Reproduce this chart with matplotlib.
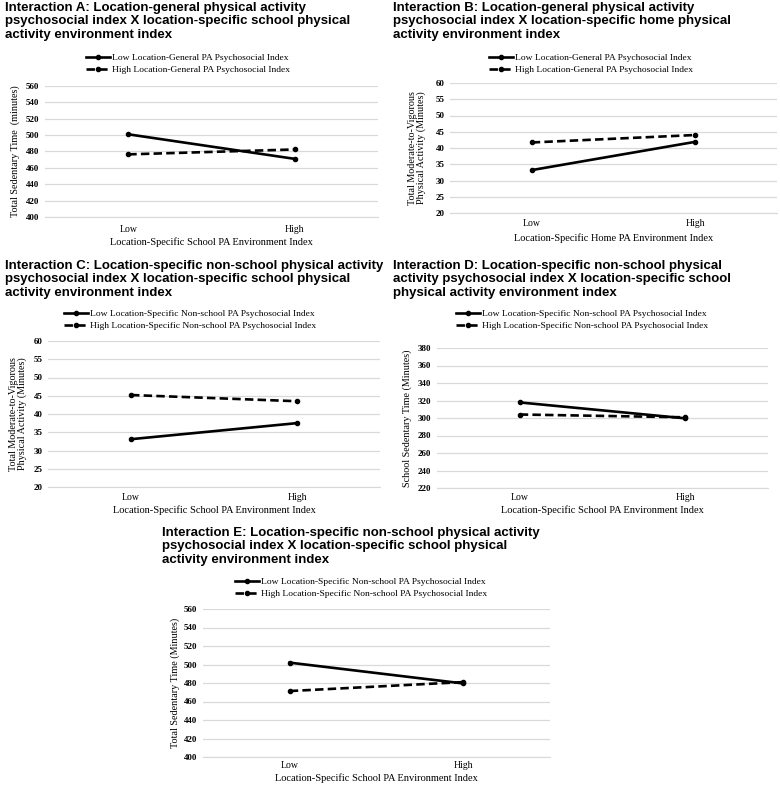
import matplotlib
matplotlib.use("Agg")
import matplotlib.pyplot as plt

W, H = 780, 785

categories = ["Low", "High"]

titles = [
    "Interaction A: Location-general physical activity\npsychosocial index X location-specific school physical\nactivity environment index",
    "Interaction B: Location-general physical activity\npsychosocial index X location-specific home physical\nactivity environment index",
    "Interaction C: Location-specific non-school physical activity\npsychosocial index X location-specific school physical\nactivity environment index",
    "Interaction D: Location-specific non-school physical\nactivity psychosocial index X location-specific school\nphysical activity environment index",
    "Interaction E: Location-specific non-school physical activity\npsychosocial index X location-specific school physical\nactivity environment index",
]

legend_general = ["Low Location-General PA Psychosocial Index",
                  "High Location-General PA Psychosocial Index"]
legend_nonschool = ["Low Location-Specific Non-school PA Psychosocial Index",
                    "High Location-Specific Non-school PA Psychosocial Index"]

ylabels = ["Total Sedentary Time  (minutes)",
           "Total Moderate-to-Vigorous\nPhysical Activity (Minutes)",
           "Total Moderate-to-Vigorous\nPhysical Activity (Minutes)",
           "School Sedentary Time (Minutes)",
           "Total Sedentary Time (Minutes)"]

xlabels = ["Location-Specific School PA Environment Index",
           "Location-Specific Home PA Environment Index",
           "Location-Specific School PA Environment Index",
           "Location-Specific School PA Environment Index",
           "Location-Specific School PA Environment Index"]

# values (low psychosocial, high psychosocial) at Low / High environment
low_a = [501.0, 471.0]
high_a = [476.5, 482.5]
low_b = [33.2, 41.9]
high_b = [41.7, 44.0]
low_c = [33.1, 37.5]
high_c = [45.2, 43.5]
low_d = [317.8, 299.6]
high_d = [304.0, 300.8]
low_e = [502.0, 479.5]
high_e = [471.3, 481.0]

yticks_a = list(range(400, 561, 20))
yticks_b = list(range(20, 61, 5))
yticks_d = list(range(220, 381, 20))

# layout in pixels: axes (left, right, top, bottom), title (x, y), legend center, ylabel x, xtick y, xlabel y
panels = [
    dict(box=(45, 378, 86, 217), title=(5, 2), leg=(188, 64), ylx=15, lo=low_a, hi=high_a,
         ticks=yticks_a, legtxt=legend_general, xt=229, xl=242),
    dict(box=(450, 777, 83, 213), title=(393, 2), leg=(591, 64), ylx=417, lo=low_b, hi=high_b,
         ticks=yticks_b, legtxt=legend_general, xt=223, xl=238),
    dict(box=(48, 380, 341, 487), title=(5, 260), leg=(190, 320), ylx=18, lo=low_c, hi=high_c,
         ticks=yticks_b, legtxt=legend_nonschool, xt=498, xl=510),
    dict(box=(437, 768, 348, 488), title=(393, 260), leg=(582, 320), ylx=407, lo=low_d, hi=high_d,
         ticks=yticks_d, legtxt=legend_nonschool, xt=498, xl=510),
    dict(box=(203, 550, 609, 757), title=(162, 527), leg=(361, 588), ylx=175, lo=low_e, hi=high_e,
         ticks=yticks_a, legtxt=legend_nonschool, xt=766, xl=778),
]

serif = "Liberation Serif"
fig = plt.figure(figsize=(W / 100, H / 100), dpi=100)

for i, p in enumerate(panels):
    l, r, t, b = p["box"]
    ax = fig.add_axes([l / W, 1 - b / H, (r - l) / W, (b - t) / H])
    x = list(range(len(categories)))
    ax.plot(x, p["lo"], color="black", lw=1.9, marker="o", ms=3, label=p["legtxt"][0])
    ax.plot(x, p["hi"], color="black", lw=1.9, ls=(0, (3.2, 1.6)), marker="o", ms=3,
            label=p["legtxt"][1])
    ax.set_xlim(-0.5, 1.5)
    ax.set_ylim(p["ticks"][0], p["ticks"][-1])
    ax.set_yticks(p["ticks"])
    ax.set_xticks([])
    ax.grid(axis="y", color="#d9d9d9", lw=0.9)
    ax.set_axisbelow(True)
    for s in ["top", "right", "left"]:
        ax.spines[s].set_visible(False)
    ax.spines["bottom"].set_color("#d9d9d9")
    ax.tick_params(axis="y", length=0, pad=4, labelsize=6.5)
    for lab in ax.get_yticklabels():
        lab.set_fontfamily(serif)
        lab.set_fontweight("bold")
    for xi, c in zip(x, categories):
        ax.text(xi, (b - p["xt"]) / (b - t), c, transform=ax.get_xaxis_transform(),
                ha="center", va="center", fontsize=7, family=serif)
    ax.text(0.5, (b - p["xl"]) / (b - t), xlabels[i], transform=ax.transAxes,
            ha="center", va="center", fontsize=7.5, family=serif)
    ax.text((p["ylx"] - l) / (r - l), 0.5, ylabels[i], transform=ax.transAxes, rotation=90,
            ha="center", va="center", fontsize=7.3, family=serif, linespacing=1.0)
    fig.text(p["title"][0] / W, 1 - p["title"][1] / H, titles[i], ha="left", va="top",
             fontsize=9.5, fontweight="bold", family="Liberation Sans", linespacing=1.15)
    ax.legend(loc="center", bbox_to_anchor=(p["leg"][0] / W, 1 - p["leg"][1] / H),
              bbox_transform=fig.transFigure, frameon=False, prop=dict(family=serif, size=6.8),
              handlelength=2.6, handletextpad=0.2, labelspacing=0.4, borderpad=0)

fig.savefig("out.png", dpi=100)
